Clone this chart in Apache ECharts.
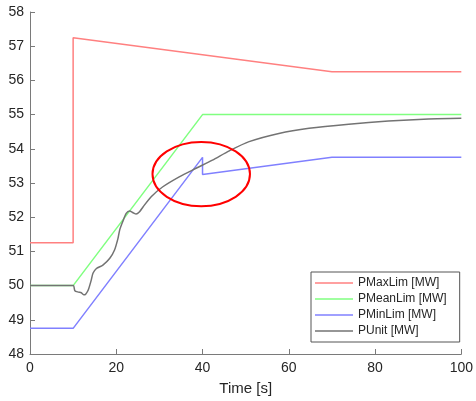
<!DOCTYPE html>
<html>
<head>
<meta charset="utf-8">
<script src="https://cdn.jsdelivr.net/npm/echarts@6/dist/echarts.min.js"></script>
<style>
  html, body { margin: 0; padding: 0; background: #fff; }
  #chart { width: 476px; height: 401px; }
</style>
</head>
<body>
<div id="chart"></div>
<script>
// Power limits and unit output over time, [time s, MW]
const pMaxLim = [[0, 51.25], [10, 51.25], [10, 57.25], [70, 56.25], [100, 56.25]];
const pMeanLim = [[0, 50], [10, 50], [40, 55], [100, 55]];
const pMinLim = [[0, 48.75], [10, 48.75], [40, 53.75], [40, 53.25], [70, 53.75], [100, 53.75]];
const pUnit = [
  [0, 50], [10, 50], [10.4, 49.85], [11.2, 49.81], [11.9, 49.79], [12.5, 49.73],
  [12.9, 49.75], [13.5, 49.87], [14.2, 50.16], [14.6, 50.36], [15.4, 50.5],
  [16.9, 50.6], [18.5, 50.8], [19.6, 51.04], [20.4, 51.38], [20.8, 51.63],
  [21.5, 51.87], [22.3, 52.11], [23.1, 52.18], [23.9, 52.13], [24.6, 52.09],
  [25.4, 52.16], [26.2, 52.3], [28.1, 52.6], [30.8, 52.89], [34.6, 53.18],
  [38.5, 53.43], [42.3, 53.67], [46.2, 53.94], [50.8, 54.21], [57.7, 54.45],
  [64.7, 54.6], [73.9, 54.72], [83.1, 54.81], [92.4, 54.87], [100, 54.89]
];
// Highlight ring: [centre time, centre MW, half-width s, half-height MW]
const highlight = [[39.7, 53.26, 11.3, 0.94]];

const xTicks = [0, 20, 40, 60, 80, 100];
const yTicks = [48, 49, 50, 51, 52, 53, 54, 55, 56, 57, 58];

const font = 'Liberation Sans, Arial, Helvetica, sans-serif';
const axisColor = '#7a7a7a';
const textColor = '#262626';

const chart = echarts.init(document.getElementById('chart'), null, { renderer: 'canvas' });

function lineSeries(name, data, color, smooth) {
  return {
    name, type: 'line', data, symbol: 'none', animation: false,
    smooth: smooth || false,
    lineStyle: { color, width: 1.5 }, itemStyle: { color },
    z: 2
  };
}

chart.setOption({
  animation: false,
  backgroundColor: '#fff',
  grid: { left: 30, right: 13, top: 12, bottom: 46 },
  xAxis: {
    type: 'value', min: xTicks[0], max: xTicks[xTicks.length - 1], interval: 20,
    name: 'Time [s]', nameLocation: 'middle', nameGap: 27,
    nameTextStyle: { fontFamily: font, fontSize: 15, color: textColor },
    axisLine: { lineStyle: { color: axisColor, width: 1 } },
    axisTick: { inside: true, length: 5, lineStyle: { color: axisColor } },
    axisLabel: { fontFamily: font, fontSize: 14, color: textColor, margin: 7 },
    splitLine: { show: false }
  },
  yAxis: {
    type: 'value', min: yTicks[0], max: yTicks[yTicks.length - 1], interval: 1,
    axisLine: { show: true, lineStyle: { color: axisColor, width: 1 } },
    axisTick: { show: true, inside: true, length: 5, lineStyle: { color: axisColor } },
    axisLabel: { fontFamily: font, fontSize: 14, color: textColor, margin: 6 },
    splitLine: { show: false }
  },
  legend: {
    orient: 'vertical', left: 311, top: 272,
    data: ['PMaxLim [MW]', 'PMeanLim [MW]', 'PMinLim [MW]', 'PUnit [MW]'],
    icon: 'rect', itemWidth: 38, itemHeight: 1.5, itemGap: 0,
    padding: [3, 13, 3, 4],
    backgroundColor: '#fff', borderColor: '#555', borderWidth: 1,
    textStyle: { fontFamily: font, fontSize: 12, color: textColor, lineHeight: 16 }
  },
  series: [
    lineSeries('PMaxLim [MW]', pMaxLim, '#ff8080'),
    lineSeries('PMeanLim [MW]', pMeanLim, '#80ff80'),
    lineSeries('PMinLim [MW]', pMinLim, '#8080ff'),
    lineSeries('PUnit [MW]', pUnit, '#737373', 0.25),
    {
      type: 'custom', data: highlight, silent: true, z: 3,
      renderItem(params, api) {
        const c = api.coord([api.value(0), api.value(1)]);
        const s = api.size([api.value(2), api.value(3)]);
        return {
          type: 'ellipse',
          shape: { cx: c[0], cy: c[1], rx: s[0], ry: s[1] },
          style: { fill: null, stroke: '#ff0000', lineWidth: 2 }
        };
      }
    }
  ]
});
</script>
</body>
</html>
